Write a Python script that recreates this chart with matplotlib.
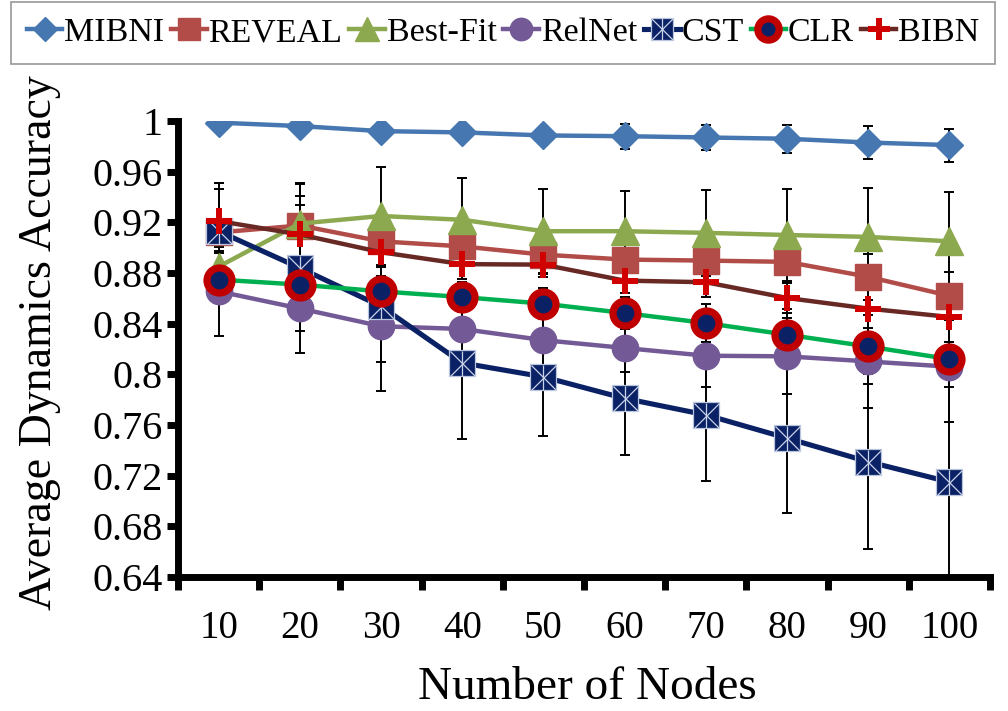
import numpy as np
import matplotlib
matplotlib.use("Agg")
import matplotlib.pyplot as plt
from matplotlib.legend_handler import HandlerTuple

plt.rcParams['font.family'] = ['Liberation Serif', 'DejaVu Serif']

nodes = ["10", "20", "30", "40", "50", "60", "70", "80", "90", "100"]

mibni = [0.9987, 0.996, 0.992, 0.991, 0.9886, 0.988, 0.987, 0.986, 0.983, 0.981]
reveal = [0.912, 0.9175, 0.905, 0.901, 0.8945, 0.8906, 0.8898, 0.8888, 0.877, 0.862]
bestfit = [0.885, 0.919, 0.925, 0.922, 0.913, 0.913, 0.9117, 0.910, 0.9085, 0.905]
relnet = [0.8655, 0.852, 0.838, 0.8358, 0.827, 0.8208, 0.8147, 0.8142, 0.8102, 0.806]
cst = [0.913, 0.884, 0.8537, 0.809, 0.798, 0.781, 0.768, 0.7496, 0.731, 0.715]
clr = [0.8748, 0.8708, 0.8655, 0.861, 0.8558, 0.8484, 0.8405, 0.8313, 0.822, 0.812]
bibn = [0.921, 0.9104, 0.8964, 0.887, 0.8866, 0.874, 0.8727, 0.8603, 0.8519, 0.8453]

mibni_err = [0.002, 0.003, 0.004, 0.004, 0.005, 0.010, 0.010, 0.011, 0.013, 0.013]
reveal_err = [0.039, 0.033, 0.020, 0.015, 0.015, 0.015, 0.015, 0.017, 0.018, 0.019]
bestfit_err = [0.012, 0.032, 0.039, 0.033, 0.033, 0.032, 0.034, 0.036, 0.039, 0.039]
relnet_err = [0.035, 0.035, 0.028, 0.020, 0.020, 0.019, 0.025, 0.030, 0.037, 0.016]
cst_err = [0.038, 0.050, 0.067, 0.060, 0.047, 0.045, 0.052, 0.059, 0.069, 0.090]
clr_err = [0.010, 0.010, 0.012, 0.012, 0.012, 0.013, 0.015, 0.020, 0.030, 0.050]
bibn_err = [0.025, 0.030, 0.012, 0.012, 0.010, 0.010, 0.012, 0.012, 0.015, 0.020]

fig = plt.figure(figsize=(10.08, 7.11), dpi=100)
ax = fig.add_axes([178/1008, 1-577/711, (990-178)/1008, (577-121)/711])

x = np.arange(len(nodes))

for vals, errs in [(mibni, mibni_err), (reveal, reveal_err), (bestfit, bestfit_err),
                   (relnet, relnet_err), (cst, cst_err), (clr, clr_err), (bibn, bibn_err)]:
    ax.errorbar(x, vals, yerr=errs, fmt='none', ecolor='black', elinewidth=1.4,
                capsize=3.3, capthick=1.4, zorder=2)

navy = '#0B2165'
lw = 3.2
h_mibni, = ax.plot(x, mibni, color='#4677B0', lw=lw, marker='D', ms=14,
                   mfc='#4677B0', mec='#4677B0', zorder=3, label='MIBNI')
h_reveal, = ax.plot(x, reveal, color='#B24C48', lw=lw, marker='s', ms=19,
                    mfc='#B24C48', mec='#B24C48', zorder=4, label='REVEAL')
h_best, = ax.plot(x, bestfit, color='#8CA94F', lw=lw, marker='^', ms=20,
                  mfc='#8CA94F', mec='#8CA94F', zorder=5, label='Best-Fit')
h_rel, = ax.plot(x, relnet, color='#735A96', lw=lw, marker='o', ms=19,
                 mfc='#735A96', mec='#735A96', zorder=6, label='RelNet')
h_cst, = ax.plot(x, cst, color=navy, lw=lw + 0.5, marker='s', ms=19,
                 mfc=navy, mec='#B9C5DD', mew=0.9, zorder=7, label='CST')
h_cstx, = ax.plot(x, cst, ls='none', marker='x', ms=18, mec='#C9D3E8', mew=0.9, zorder=7.1)
h_cstv, = ax.plot(x, cst, ls='none', marker='|', ms=18, mec='#C9D3E8', mew=0.9, zorder=7.1)
h_clr, = ax.plot(x, clr, color='#00B050', lw=lw, marker='o', ms=18, mfc=navy,
                 mec='#C00000', mew=5.2, zorder=8, label='CLR')
h_bibn, = ax.plot(x, bibn, color='#682824', lw=lw, marker='+', ms=19,
                  mec='#D00000', mew=4.3, zorder=9, label='BIBN')

ax.set_xlim(-0.5, 9.5)
ax.set_ylim(0.64, 1.0)
yt = np.round(np.arange(0.64, 1.0001, 0.04), 2)
ax.set_yticks(yt)
ax.set_yticklabels([("%.2f" % v).rstrip('0').rstrip('.') for v in yt])
ax.set_xticks(np.arange(-0.5, 10, 1.0))
ax.set_xticklabels([])
ax.set_xticks(x, minor=True)
ax.set_xticklabels(nodes, minor=True)
ax.tick_params(axis='x', which='minor', length=0, pad=24, labelsize=28)
ax.tick_params(axis='x', which='major', length=9, width=5, direction='out')
ax.tick_params(axis='y', which='major', length=8, width=5, direction='out', pad=3, labelsize=29)

for s in ['top', 'right']:
    ax.spines[s].set_visible(False)
for s in ['left', 'bottom']:
    ax.spines[s].set_linewidth(5)
    ax.spines[s].set_color('black')
ax.set_facecolor('white')

fig.text(40/1008, 1-343/711, 'Average Dynamics Accuracy', rotation=90,
         ha='center', va='center', fontsize=33)
fig.text(587/1008, 1-688/711, 'Number of Nodes', ha='center', va='center', fontsize=34)

handles = [h_mibni, h_reveal, h_best, h_rel, (h_cst, h_cstx, h_cstv), h_clr, h_bibn]
labels = ['MIBNI', 'REVEAL', 'Best-Fit', 'RelNet', 'CST', 'CLR', 'BIBN']
leg = fig.legend(handles, labels, loc='center', bbox_to_anchor=(503/1008, 1-33/711),
                 ncol=7, fontsize=24.5, frameon=True, fancybox=False, edgecolor='#7F7F7F',
                 handlelength=1.05, handletextpad=0.05, columnspacing=0.2, borderpad=0.45,
                 handler_map={tuple: HandlerTuple(ndivide=1)}, markerscale=0.85)
leg.get_frame().set_linewidth(1.2)

fig.savefig('out.png', dpi=100, facecolor='white')
